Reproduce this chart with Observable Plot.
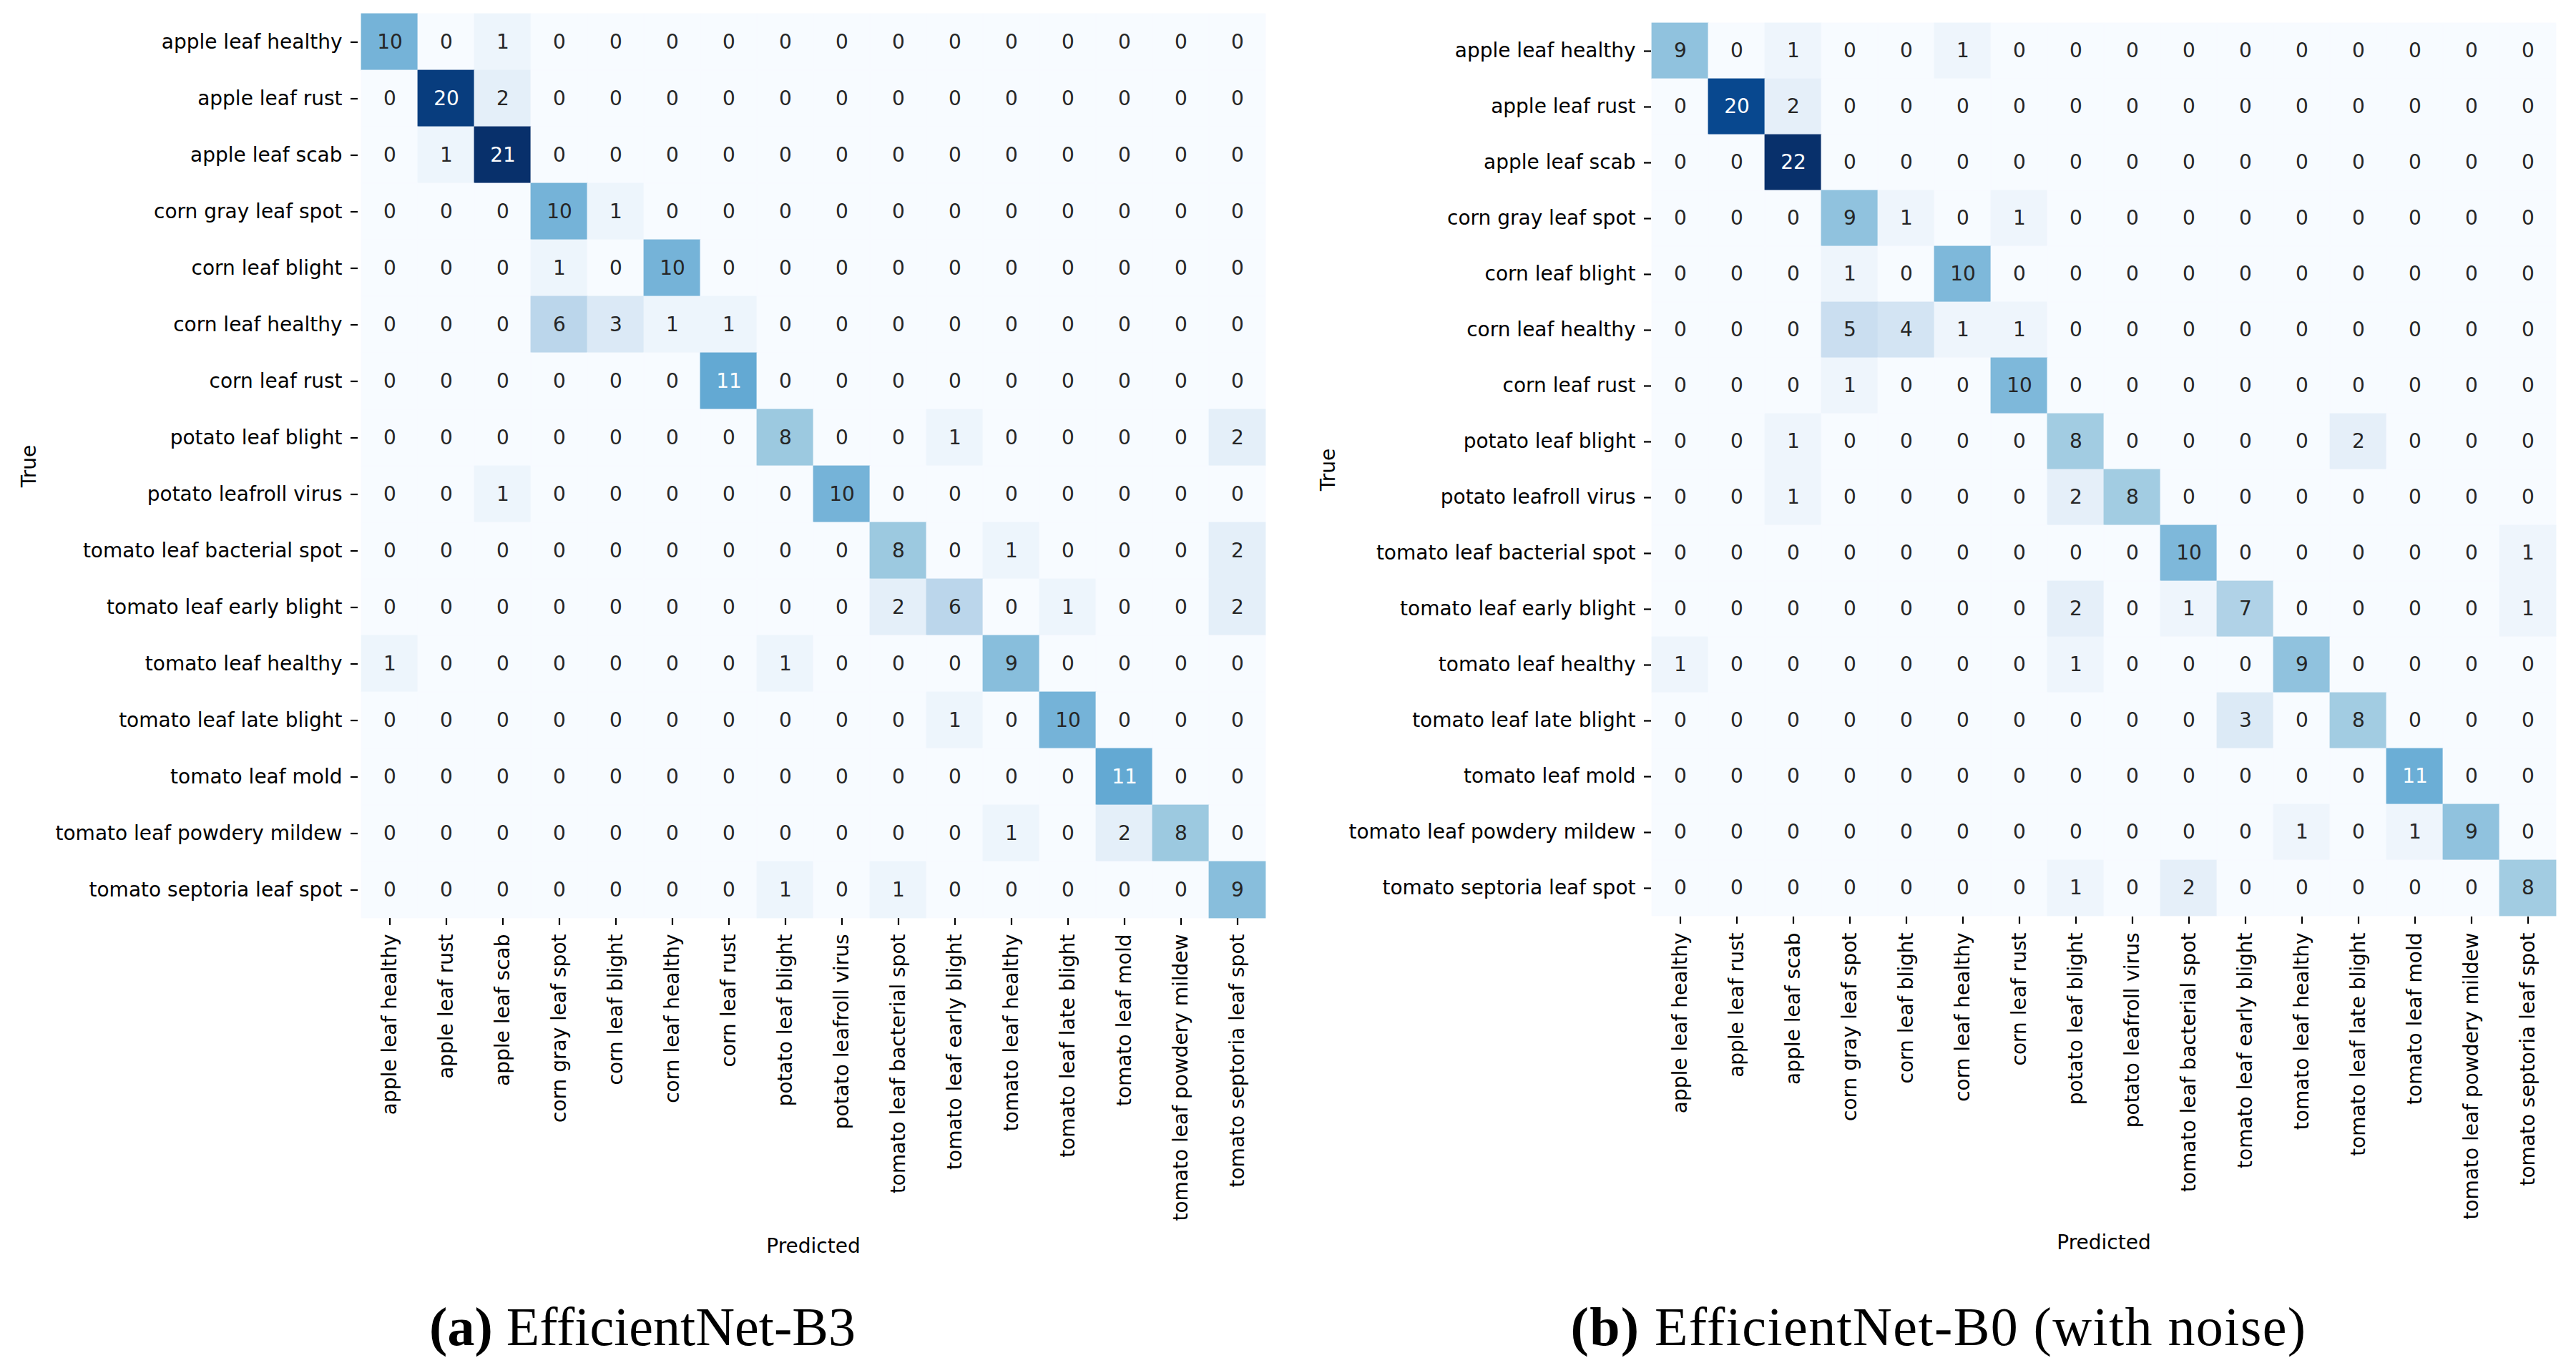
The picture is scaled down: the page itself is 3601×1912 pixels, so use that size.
<!DOCTYPE html>
<html>
<head>
<meta charset="utf-8">
<script src="https://cdn.jsdelivr.net/npm/d3@7"></script>
<script src="https://cdn.jsdelivr.net/npm/@observablehq/plot@0.6"></script>
<style>
html, body { margin: 0; padding: 0; background: #ffffff; }
#page { position: relative; width: 3601px; height: 1912px; overflow: hidden; background: #ffffff; }
.panel { position: absolute; top: 0; }
.cap { position: absolute; top: 1816px; font-family: "Liberation Serif", "Times New Roman", serif; font-size: 76px; line-height: 76px; text-align: center; color: #000; white-space: nowrap; }
</style>
</head>
<body>
<div id="page">
  <div class="panel" id="left" style="left:0px"></div>
  <div class="panel" id="right" style="left:1800px"></div>
  <div class="cap" style="left:0px;width:1796px"><b>(a)</b> EfficientNet-B3</div>
  <div class="cap" style="left:1820px;width:1780px;letter-spacing:1.4px"><b>(b)</b> EfficientNet-B0 (with noise)</div>
</div>
<script>
const classes = [
  "apple leaf healthy", "apple leaf rust", "apple leaf scab", "corn gray leaf spot",
  "corn leaf blight", "corn leaf healthy", "corn leaf rust", "potato leaf blight",
  "potato leafroll virus", "tomato leaf bacterial spot", "tomato leaf early blight",
  "tomato leaf healthy", "tomato leaf late blight", "tomato leaf mold",
  "tomato leaf powdery mildew", "tomato septoria leaf spot"
];

// (a) EfficientNet-B3 — rows: True, columns: Predicted
const matrixA = [
  [10, 0, 1, 0, 0, 0, 0, 0, 0, 0, 0, 0, 0, 0, 0, 0],
  [0, 20, 2, 0, 0, 0, 0, 0, 0, 0, 0, 0, 0, 0, 0, 0],
  [0, 1, 21, 0, 0, 0, 0, 0, 0, 0, 0, 0, 0, 0, 0, 0],
  [0, 0, 0, 10, 1, 0, 0, 0, 0, 0, 0, 0, 0, 0, 0, 0],
  [0, 0, 0, 1, 0, 10, 0, 0, 0, 0, 0, 0, 0, 0, 0, 0],
  [0, 0, 0, 6, 3, 1, 1, 0, 0, 0, 0, 0, 0, 0, 0, 0],
  [0, 0, 0, 0, 0, 0, 11, 0, 0, 0, 0, 0, 0, 0, 0, 0],
  [0, 0, 0, 0, 0, 0, 0, 8, 0, 0, 1, 0, 0, 0, 0, 2],
  [0, 0, 1, 0, 0, 0, 0, 0, 10, 0, 0, 0, 0, 0, 0, 0],
  [0, 0, 0, 0, 0, 0, 0, 0, 0, 8, 0, 1, 0, 0, 0, 2],
  [0, 0, 0, 0, 0, 0, 0, 0, 0, 2, 6, 0, 1, 0, 0, 2],
  [1, 0, 0, 0, 0, 0, 0, 1, 0, 0, 0, 9, 0, 0, 0, 0],
  [0, 0, 0, 0, 0, 0, 0, 0, 0, 0, 1, 0, 10, 0, 0, 0],
  [0, 0, 0, 0, 0, 0, 0, 0, 0, 0, 0, 0, 0, 11, 0, 0],
  [0, 0, 0, 0, 0, 0, 0, 0, 0, 0, 0, 1, 0, 2, 8, 0],
  [0, 0, 0, 0, 0, 0, 0, 1, 0, 1, 0, 0, 0, 0, 0, 9]
];

// (b) EfficientNet-B0 (with noise)
const matrixB = [
  [9, 0, 1, 0, 0, 1, 0, 0, 0, 0, 0, 0, 0, 0, 0, 0],
  [0, 20, 2, 0, 0, 0, 0, 0, 0, 0, 0, 0, 0, 0, 0, 0],
  [0, 0, 22, 0, 0, 0, 0, 0, 0, 0, 0, 0, 0, 0, 0, 0],
  [0, 0, 0, 9, 1, 0, 1, 0, 0, 0, 0, 0, 0, 0, 0, 0],
  [0, 0, 0, 1, 0, 10, 0, 0, 0, 0, 0, 0, 0, 0, 0, 0],
  [0, 0, 0, 5, 4, 1, 1, 0, 0, 0, 0, 0, 0, 0, 0, 0],
  [0, 0, 0, 1, 0, 0, 10, 0, 0, 0, 0, 0, 0, 0, 0, 0],
  [0, 0, 1, 0, 0, 0, 0, 8, 0, 0, 0, 0, 2, 0, 0, 0],
  [0, 0, 1, 0, 0, 0, 0, 2, 8, 0, 0, 0, 0, 0, 0, 0],
  [0, 0, 0, 0, 0, 0, 0, 0, 0, 10, 0, 0, 0, 0, 0, 1],
  [0, 0, 0, 0, 0, 0, 0, 2, 0, 1, 7, 0, 0, 0, 0, 1],
  [1, 0, 0, 0, 0, 0, 0, 1, 0, 0, 0, 9, 0, 0, 0, 0],
  [0, 0, 0, 0, 0, 0, 0, 0, 0, 0, 3, 0, 8, 0, 0, 0],
  [0, 0, 0, 0, 0, 0, 0, 0, 0, 0, 0, 0, 0, 11, 0, 0],
  [0, 0, 0, 0, 0, 0, 0, 0, 0, 0, 0, 1, 0, 1, 9, 0],
  [0, 0, 0, 0, 0, 0, 0, 1, 0, 2, 0, 0, 0, 0, 0, 8]
];

const blues9 = ["#f7fbff", "#deebf7", "#c6dbef", "#9ecae1", "#6baed6", "#4292c6", "#2171b5", "#08519c", "#08306b"];

function relLuminance(c) {
  const {r, g, b} = d3.rgb(c);
  const f = (v) => { v /= 255; return v <= 0.03928 ? v / 12.92 : Math.pow((v + 0.055) / 1.055, 2.4); };
  return 0.2126 * f(r) + 0.7152 * f(g) + 0.0722 * f(b);
}

function heatmap(matrix, layout) {
  const max = d3.max(matrix.flat());
  const domain = blues9.map((_, i) => (i * max) / 8);
  const colorOf = d3.scaleLinear().domain(domain).range(blues9).interpolate(d3.interpolateRgb);
  const cells = [];
  matrix.forEach((row, i) => row.forEach((v, j) => cells.push({t: classes[i], p: classes[j], v})));
  const isDark = (d) => relLuminance(colorOf(d.v)) <= 0.408;
  return Plot.plot({
    width: layout.width,
    height: layout.height,
    marginLeft: layout.marginLeft,
    marginRight: layout.marginRight,
    marginTop: layout.marginTop,
    marginBottom: layout.marginBottom,
    style: {fontFamily: "DejaVu Sans", fontSize: "28px", background: "#ffffff", color: "#000000", overflow: "visible"},
    x: {domain: classes, padding: 0},
    y: {domain: classes, padding: 0},
    color: {type: "linear", domain, range: blues9, interpolate: "rgb"},
    marks: [
      Plot.cell(cells, {x: "p", y: "t", fill: "v", stroke: "v", strokeWidth: 0.8}),
      Plot.text(cells, {x: "p", y: "t", text: (d) => String(d.v), filter: (d) => !isDark(d), fill: "#262626", fontSize: 28}),
      Plot.text(cells, {x: "p", y: "t", text: (d) => String(d.v), filter: isDark, fill: "#ffffff", fontSize: 28}),
      Plot.axisY({tickSize: 10, tickPadding: 12, strokeWidth: 2.2, label: "True", labelAnchor: "center", labelOffset: layout.yLabelOffset}),
      Plot.axisX({tickSize: 10, tickPadding: 12, strokeWidth: 2.2, tickRotate: -90, label: "Predicted", labelAnchor: "center", labelOffset: layout.xLabelOffset})
    ]
  });
}

document.getElementById("left").appendChild(heatmap(matrixA, {
  width: 1800, height: 1800, marginLeft: 500, marginRight: 27, marginTop: 19, marginBottom: 517,
  yLabelOffset: 470, xLabelOffset: 467
}));
document.getElementById("right").appendChild(heatmap(matrixB, {
  width: 1801, height: 1800, marginLeft: 508, marginRight: 28, marginTop: 31, marginBottom: 519,
  yLabelOffset: 462, xLabelOffset: 464
}));
</script>
</body>
</html>
